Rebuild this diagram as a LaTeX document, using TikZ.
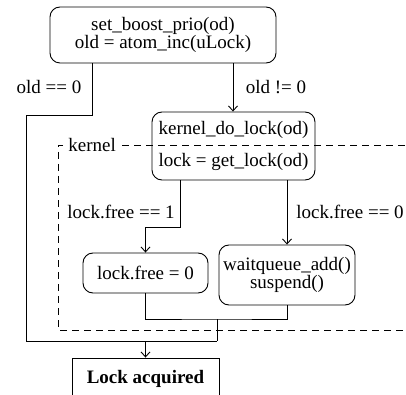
\documentclass[tikz,border=0pt]{standalone}
\usepackage{fontspec}
\setmainfont{Liberation Serif}
\usetikzlibrary{calc,arrows.meta}
\begin{document}
\begin{tikzpicture}[x=1pt,y=-1pt,line width=0.9pt,
  every node/.style={font=\fontsize{19}{17}\selectfont, inner sep=0pt},
  proc/.style={draw, rounded corners=10pt, align=center},
  box/.style={draw, align=center},
  lbl/.style={},
  arr/.style={-{Straight Barb[length=5pt,width=9pt]}},
  kdash/.style={dash pattern=on 7pt off 5pt, line width=0.8pt}]
\useasboundingbox (0,0) rectangle (406,395);
\clip (0,0) rectangle (406,395);

% kernel region
\draw[kdash] (63,145) -- (58,145) -- (58,330) -- (420,330);
\draw[kdash] (122,145) -- (420,145);
\node[lbl, anchor=west] (klabel) at (68,145) {kernel};

% nodes
\node[proc, minimum width=226pt, minimum height=56pt] (top) at (163,35) {set\_boost\_prio(od)\\old = atom\_inc(uLock)};
\node[proc, minimum width=163pt, minimum height=68pt] (kern) at (233.5,146) {kernel\_do\_lock(od)\\[14pt]lock = get\_lock(od)};
\node[proc, minimum width=125pt, minimum height=40pt] (free) at (145.5,273) {lock.free = 0};
\node[proc, minimum width=136pt, minimum height=60pt] (wait) at (287,275) {waitqueue\_add()\\suspend()};
\node[box, minimum width=147pt, minimum height=42pt] (acq) at (145.5,379) {\textbf{Lock acquired}};

% labels
\node[lbl] (l1) at (49,87) {old == 0};
\node[lbl] (l2) at (276,87) {old != 0};
\node[lbl] (l3) at (121,212) {lock.free == 1};
\node[lbl] (l4) at (350,212) {lock.free == 0};

% bend coordinates
\coordinate (a1) at (92,115);
\coordinate (a2) at (26,341);
\coordinate (m) at (217,341);
\coordinate (b1) at (180,227);
\coordinate (c1) at (217,319);
\coordinate (t2) at (233,63);

% connectors
\draw (top.south -| a1) -- (a1) -| (a2) -- (m);
\draw[arr] (top.south -| t2) -- (kern.north -| t2);
\draw[arr] (kern.south -| b1) -- (b1) -| (free.north);
\draw[arr] (kern.south -| wait.north) -- (wait.north);
\draw (free.south) |- (c1) -| (wait.south);
\draw (c1) -- (m);
\draw[arr] (m -| acq.north) -- (acq.north);
\end{tikzpicture}
\end{document}
